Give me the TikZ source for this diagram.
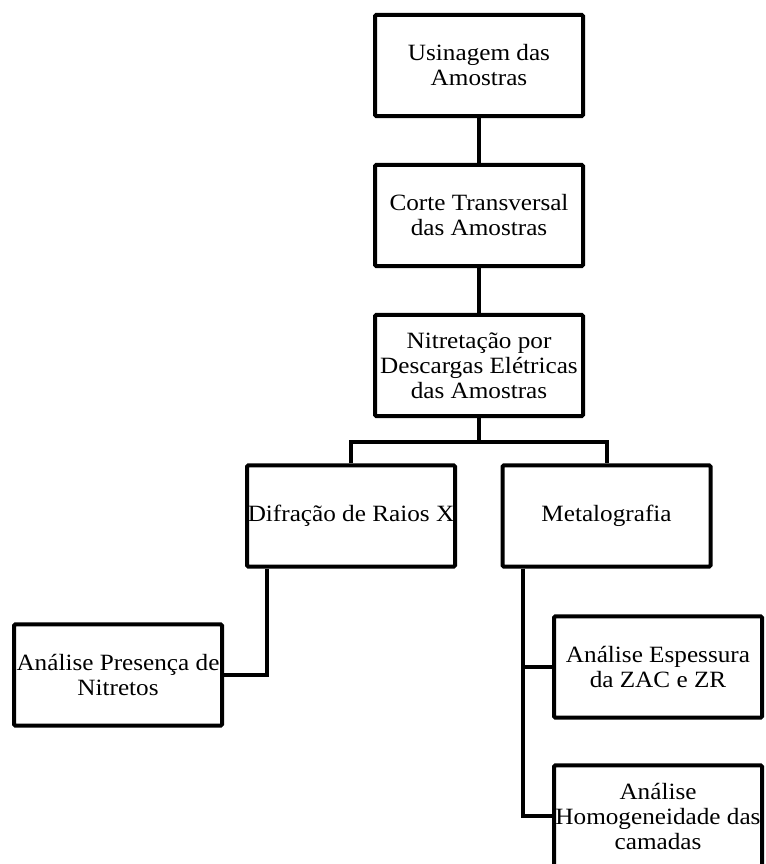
\documentclass[tikz,border=0pt]{standalone}
\usepackage{fontspec}
\setmainfont{Liberation Serif}[FakeStretch=1.08]
\begin{document}
\begin{tikzpicture}[x=0.75pt,y=-0.75pt,line width=3pt,
	etapa/.style={draw,rounded corners=1pt,minimum width=156pt,minimum height=76pt,
		inner sep=0pt,align=center,font=\fontsize{17.5}{18.75}\selectfont}]
	\useasboundingbox (0,0) rectangle (765,864);
	
	% Boxes
	\node[etapa] (usinagem) at (479,65.5) {Usinagem das\\Amostras};
	\node[etapa] (corte) at (479,215.5) {Corte Transversal\\das Amostras};
	\node[etapa] (nitretacao) at (479,365.5) {Nitretação por\\Descargas Elétricas\\das Amostras};
	\node[etapa] (difracao) at (351,516) {Difração de Raios X};
	\node[etapa] (metalografia) at (606.5,516) {Metalografia};
	\node[etapa] (presenca) at (118,675) {Análise Presença de\\Nitretos};
	\node[etapa] (espessura) at (658,667) {Análise Espessura\\da ZAC e ZR};
	\node[etapa] (homog) at (658,816) {Análise\\Homogeneidade das\\camadas};
	
	% Lines
	\coordinate (ramo) at (479,442);
	\coordinate (tronco) at ([xshift=-63pt]metalografia.south);
	\draw (usinagem) -- (corte);
	\draw (corte) -- (nitretacao);
	\draw (nitretacao) -- (ramo);
	\draw (difracao.north) |- (ramo) -| (metalografia.north);
	\draw ([xshift=-63pt]difracao.south) |- (presenca.east);
	\draw (tronco) |- (espessura.west);
	\draw (tronco) |- (homog.west);
	
\end{tikzpicture}
\end{document}
